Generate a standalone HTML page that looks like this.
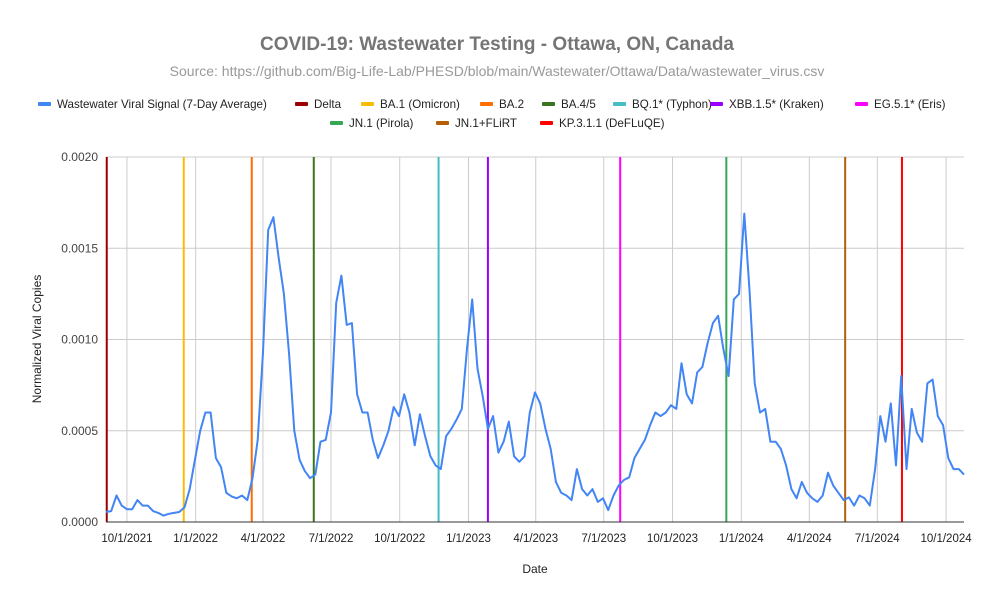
<!DOCTYPE html>
<html><head><meta charset="utf-8"><style>
body{margin:0;background:#fff;font-family:"Liberation Sans",Arial,sans-serif}
svg{display:block}
</style></head><body>
<svg id="chart" width="995" height="606" xmlns="http://www.w3.org/2000/svg">
<rect width="995" height="606" fill="#fff"/>
<text x="497" y="50" text-anchor="middle" font-size="19" font-weight="bold" fill="#757575">COVID-19: Wastewater Testing - Ottawa, ON, Canada</text>
<text x="497" y="76" text-anchor="middle" font-size="14" fill="#999">Source: https://github.com/Big-Life-Lab/PHESD/blob/main/Wastewater/Ottawa/Data/wastewater_virus.csv</text>
<g id="grid"></g><g id="variants"></g><g id="series"></g><g id="axes"></g><g id="legend"></g>
<text x="535" y="573" text-anchor="middle" font-size="12" fill="#222">Date</text>
<text transform="translate(41,339) rotate(-90)" text-anchor="middle" font-size="12" fill="#222">Normalized Viral Copies</text>
</svg>
<script>
const startDate = "2021-09-03";
const stepDays = 7;
const values = [0.55,0.6,1.45,0.9,0.7,0.7,1.2,0.9,0.9,0.6,0.5,0.35,0.45,0.5,0.55,0.8,1.8,3.4,5.0,6.0,6.0,3.5,3.0,1.6,1.4,1.3,1.45,1.2,2.4,4.5,9.3,16.0,16.7,14.5,12.5,9.2,5.0,3.4,2.8,2.4,2.6,4.4,4.5,6.0,12.0,13.5,10.8,10.9,7.0,6.0,6.0,4.5,3.5,4.2,5.0,6.3,5.8,7.0,6.0,4.2,5.9,4.7,3.6,3.1,2.9,4.7,5.1,5.6,6.2,9.5,12.2,8.4,6.9,5.1,5.8,3.8,4.4,5.5,3.6,3.3,3.6,6.0,7.1,6.5,5.1,4.0,2.2,1.6,1.45,1.2,2.9,1.8,1.45,1.8,1.1,1.3,0.65,1.45,2.0,2.3,2.45,3.5,4.0,4.5,5.3,6.0,5.8,6.0,6.4,6.2,8.7,7.0,6.5,8.2,8.5,9.8,10.9,11.3,9.5,8.0,12.2,12.5,16.9,12.7,7.6,6.0,6.2,4.4,4.4,4.0,3.1,1.8,1.3,2.2,1.6,1.3,1.1,1.45,2.7,2.0,1.6,1.2,1.35,0.9,1.45,1.3,0.9,2.9,5.8,4.4,6.5,3.1,8.0,2.9,6.2,4.9,4.4,7.6,7.8,5.8,5.3,3.5,2.9,2.9,2.6];
const valueScale = 0.0001;
const variantNames = ["Delta","BA.1 (Omicron)","BA.2","BA.4/5","BQ.1* (Typhon)","XBB.1.5* (Kraken)","EG.5.1* (Eris)","JN.1 (Pirola)","JN.1+FLiRT","KP.3.1.1 (DeFLuQE)"];
const variantDates = ["2021-09-04","2021-12-16","2022-03-17","2022-06-08","2022-11-22","2023-01-27","2023-07-23","2023-12-12","2024-05-19","2024-08-03"];
const variantColors = ["#990000","#fbbc04","#ff6d01","#38761d","#46bdc6","#9900ff","#ff00ff","#34a853","#b45f06","#ff0000"];
const xTickLabels = ["10/1/2021","1/1/2022","4/1/2022","7/1/2022","10/1/2022","1/1/2023","4/1/2023","7/1/2023","10/1/2023","1/1/2024","4/1/2024","7/1/2024","10/1/2024"];
const yTicks = [0,0.0005,0.001,0.0015,0.002];
const yTickLabels = ["0.0000","0.0005","0.0010","0.0015","0.0020"];

const NS="http://www.w3.org/2000/svg";
const L=106,R=964,T=157,B=522;
const d0=Date.parse("2021-09-03"), d1=Date.parse("2024-10-25");
function xs(t){return L+(t-d0)/(d1-d0)*(R-L);}
function ys(v){return B-(v/0.002)*(B-T);}
function mk(tag,attrs,parent){const e=document.createElementNS(NS,tag);for(const k in attrs)e.setAttribute(k,attrs[k]);parent.appendChild(e);return e;}
function parseMDY(s){const p=s.split("/");return Date.UTC(+p[2],+p[0]-1,+p[1]);}
const grid=document.getElementById("grid"),axes=document.getElementById("axes");
yTicks.forEach((v,i)=>{
  const ln=mk("line",{x1:L,x2:R,y1:ys(v),y2:ys(v),stroke:i===0?"#333":"#ccc","stroke-width":1},i===0?axes:grid);
  
  
  const t=mk("text",{x:L-8,y:ys(v)+4,"text-anchor":"end","font-size":12,fill:"#444"},axes);
  t.textContent=yTickLabels[i];
  
  
});
xTickLabels.forEach(s=>{
  const x=xs(parseMDY(s));
  const ln=mk("line",{x1:x,x2:x,y1:T,y2:B,stroke:"#ccc","stroke-width":1},grid);
  
  
  const t=mk("text",{x:x,y:542,"text-anchor":"middle","font-size":11.5,fill:"#222"},axes);
  t.textContent=s;
  
  
});
const vg=document.getElementById("variants");
variantDates.forEach((d,i)=>{
  const x=xs(Date.parse(d));
  const ln=mk("line",{x1:x,x2:x,y1:T,y2:B,stroke:variantColors[i],"stroke-width":2},vg);
  
  
});
const s0=Date.parse(startDate);
let dstr="";
values.forEach((v,i)=>{const x=xs(s0+i*stepDays*864e5);const y=ys(v*valueScale);dstr+=(i?"L":"M")+x.toFixed(1)+","+y.toFixed(1);});
const path=mk("path",{d:dstr,fill:"none",stroke:"#4285f4","stroke-width":2,"stroke-linejoin":"round"},document.getElementById("series"));


const lg=document.getElementById("legend");
const legendItems=[["Wastewater Viral Signal (7-Day Average)","#4285f4",38,104]];
const pos=[[295,104],[361,104],[480,104],[542,104],[613,104],[710,104],[855,104],[330,123],[436,123],[540,123]];
variantNames.forEach((n,i)=>legendItems.push([n,variantColors[i],pos[i][0],pos[i][1]]));
legendItems.forEach(it=>{
  const g=mk("g",{},lg);
  
  
  mk("rect",{x:it[2],y:it[3]-2,width:13,height:4,rx:1,fill:it[1]},g);
  const t=mk("text",{x:it[2]+19,y:it[3]+4,"font-size":11.6,fill:"#222"},g);
  t.textContent=it[0];
});
</script>
</body></html>
